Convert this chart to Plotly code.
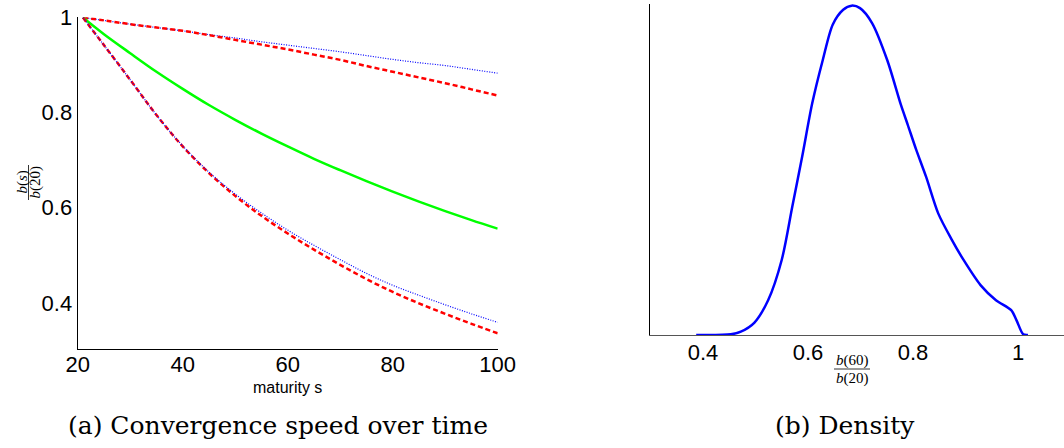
import plotly.graph_objects as go

# ---------------- data: panel (a) ----------------
maturity = [21, 25, 30, 35, 40, 45, 50, 55, 60, 65, 70, 75, 80, 85, 90, 95, 100]
green_mid = [1.000, 0.965, 0.925, 0.886, 0.850, 0.816, 0.785, 0.756, 0.729, 0.703,
             0.679, 0.656, 0.634, 0.613, 0.593, 0.574, 0.556]
upper_blue = [1.000, 0.994, 0.986, 0.979, 0.972, 0.964, 0.957, 0.949, 0.942, 0.935,
              0.928, 0.920, 0.912, 0.905, 0.899, 0.891, 0.883]
upper_red = [1.000, 0.994, 0.986, 0.979, 0.972, 0.963, 0.953, 0.943, 0.933, 0.922,
             0.911, 0.898, 0.886, 0.874, 0.862, 0.849, 0.836]
lower_blue = [1.000, 0.942, 0.869, 0.795, 0.730, 0.675, 0.629, 0.589, 0.553, 0.521,
              0.491, 0.462, 0.437, 0.416, 0.396, 0.377, 0.359]
lower_red = [1.000, 0.942, 0.869, 0.795, 0.729, 0.673, 0.625, 0.583, 0.546, 0.512,
             0.480, 0.450, 0.423, 0.399, 0.377, 0.356, 0.336]

a_xticks = [20, 40, 60, 80, 100]
a_yticks = [0.4, 0.6, 0.8, 1.0]
a_yticklabels = ["0.4", "0.6", "0.8", "1"]

# ---------------- data: panel (b) ----------------
ratio = [0.387, 0.453, 0.472, 0.498, 0.524, 0.550, 0.570, 0.589, 0.608, 0.628,
         0.647, 0.667, 0.683, 0.699, 0.722, 0.751, 0.777, 0.790, 0.806, 0.825,
         0.848, 0.874, 0.896, 0.929, 0.958, 0.987, 0.997, 1.010, 1.019]
density = [0.000, 0.008, 0.040, 0.150, 0.420, 0.910, 1.550, 2.160, 2.800, 3.320,
           3.750, 3.930, 3.980, 3.950, 3.770, 3.320, 2.780, 2.540, 2.240, 1.910,
           1.470, 1.150, 0.910, 0.600, 0.420, 0.300, 0.180, 0.008, 0.000]
b_xticks = [0.4, 0.6, 0.8, 1.0]
b_xticklabels = ["0.4", "0.6", "0.8", "1"]

W, H = 1064, 448


def px(x):
    return x / W


def py(y):
    return (H - y) / H


fig = go.Figure()

fig.add_trace(go.Scatter(x=maturity, y=upper_blue, mode="lines", xaxis="x", yaxis="y",
                         line=dict(color="#0000ff", width=1.2, dash="1px,1.5px", shape="spline")))
fig.add_trace(go.Scatter(x=maturity, y=upper_red, mode="lines", xaxis="x", yaxis="y",
                         line=dict(color="#ff0000", width=2.5, dash="5px,3px", shape="spline")))
fig.add_trace(go.Scatter(x=maturity, y=green_mid, mode="lines", xaxis="x", yaxis="y",
                         line=dict(color="#00ff00", width=2.5, shape="spline")))
fig.add_trace(go.Scatter(x=maturity, y=lower_red, mode="lines", xaxis="x", yaxis="y",
                         line=dict(color="#ff0000", width=2.5, dash="5px,3px", shape="spline")))
fig.add_trace(go.Scatter(x=maturity, y=lower_blue, mode="lines", xaxis="x", yaxis="y",
                         line=dict(color="#0000ff", width=1.2, dash="1px,1.5px", shape="spline")))

fig.add_trace(go.Scatter(x=ratio, y=density, mode="lines", xaxis="x2", yaxis="y2",
                         line=dict(color="#0000ff", width=2.5, shape="spline", smoothing=0.8)))

tickfont = dict(family="Liberation Sans, Arial, sans-serif", size=22, color="#000")
common = dict(showgrid=False, zeroline=False, showline=True, linewidth=1.2,
              ticks="", automargin=False)

fig.update_layout(
    width=W, height=H,
    margin=dict(l=0, r=0, t=0, b=0, autoexpand=False),
    paper_bgcolor="white", plot_bgcolor="white",
    showlegend=False,
    xaxis=dict(domain=[px(77.7), px(497.7)], range=[20, 100], anchor="y",
               tickvals=a_xticks, ticktext=[str(v) for v in a_xticks],
               linecolor="#000", tickfont=tickfont, ticklabelstandoff=-5, **common),
    yaxis=dict(domain=[py(349), py(17.3)], range=[0.303, 1.0005], anchor="x",
               tickvals=a_yticks, ticktext=a_yticklabels,
               linecolor="#000", tickfont=tickfont, **common),
    xaxis2=dict(domain=[px(650), 1.0], range=[0.299, 1.0876], anchor="y2",
                tickvals=b_xticks, ticktext=b_xticklabels,
                linecolor="#555", tickfont=tickfont, ticklabelstandoff=-3, **common),
    yaxis2=dict(domain=[py(335), py(4)], range=[0, 4.0], anchor="x2",
                showticklabels=False, linecolor="#000", **common),
)

serif = "Liberation Serif, Times New Roman, serif"
ann = []
# x label (a)
ann.append(dict(x=px(287.7), y=py(387), xref="paper", yref="paper", text="maturity s",
                showarrow=False, font=dict(family="Liberation Sans, Arial, sans-serif", size=16, color="#000"),
                xanchor="center", yanchor="middle"))
# y label (a): rotated fraction b(s)/b(20)
ann.append(dict(x=px(22), y=py(182.5), xref="paper", yref="paper", text="<i>b</i>(<i>s</i>)",
                showarrow=False, textangle=-90, font=dict(family=serif, size=15, color="#000"),
                xanchor="center", yanchor="middle"))
ann.append(dict(x=px(35), y=py(182.5), xref="paper", yref="paper", text="<i>b</i>(20)",
                showarrow=False, textangle=-90, font=dict(family=serif, size=15, color="#000"),
                xanchor="center", yanchor="middle"))
# x label (b): fraction b(60)/b(20)
ann.append(dict(x=px(852), y=py(360), xref="paper", yref="paper", text="<i>b</i>(60)",
                showarrow=False, font=dict(family=serif, size=15, color="#000"),
                xanchor="center", yanchor="middle"))
ann.append(dict(x=px(852), y=py(378), xref="paper", yref="paper", text="<i>b</i>(20)",
                showarrow=False, font=dict(family=serif, size=15, color="#000"),
                xanchor="center", yanchor="middle"))
# captions
ann.append(dict(x=px(278), y=py(425), xref="paper", yref="paper", text="(a) Convergence speed over time",
                showarrow=False, font=dict(family="DejaVu Serif, serif", size=25, color="#000"),
                xanchor="center", yanchor="middle"))
ann.append(dict(x=px(845), y=py(425), xref="paper", yref="paper", text="(b) Density",
                showarrow=False, font=dict(family="DejaVu Serif, serif", size=25, color="#000"),
                xanchor="center", yanchor="middle"))
fig.update_layout(annotations=ann)

fig.update_layout(shapes=[
    dict(type="line", xref="paper", yref="paper", x0=px(28.5), x1=px(28.5), y0=py(165), y1=py(200),
         line=dict(color="#000", width=0.8)),
    dict(type="line", xref="paper", yref="paper", x0=px(834), x1=px(870), y0=py(369), y1=py(369),
         line=dict(color="#000", width=0.8)),
])

fig.write_html("out.html")
